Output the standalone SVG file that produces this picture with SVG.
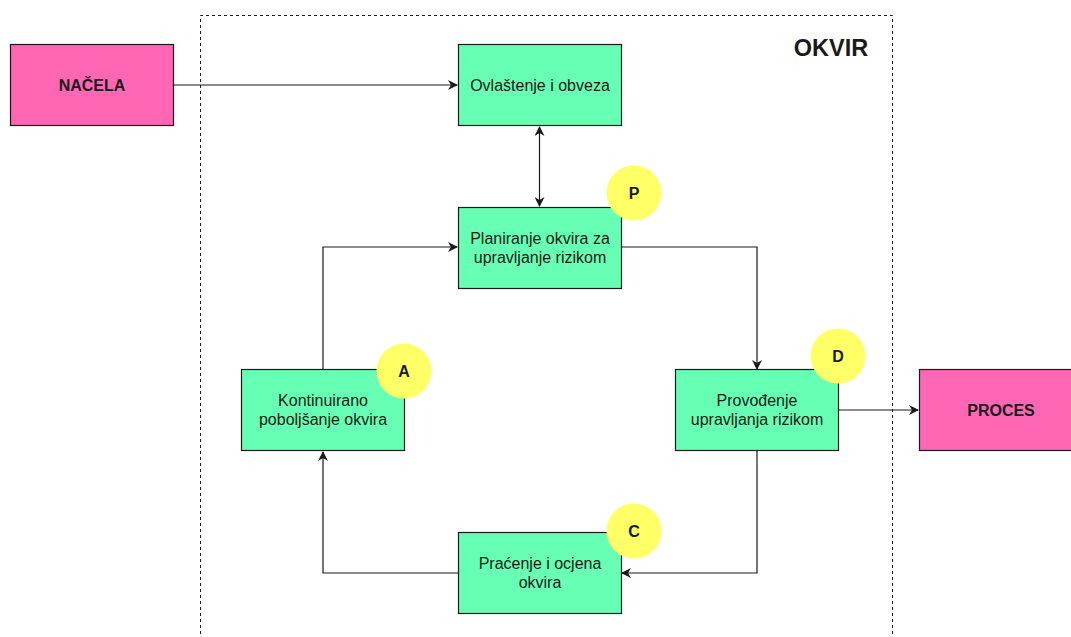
<svg xmlns="http://www.w3.org/2000/svg" width="1071" height="637" viewBox="0 0 1071 637">
<style>
.g{fill:#66FFB3;stroke:#1a1a1a;stroke-width:1.2}
.p{fill:#FF66B3;stroke:#1a1a1a;stroke-width:1.2}
.c{fill:#FFFF66;stroke:none}
.t{font-family:"Liberation Sans",Arial,sans-serif;font-size:16px;fill:#1a1a1a;text-anchor:middle}
.b{font-family:"Liberation Sans",Arial,sans-serif;font-size:16px;font-weight:bold;fill:#1a1a1a;text-anchor:middle}
.e{fill:none;stroke:#1a1a1a;stroke-width:1.2}
</style>
<defs>
<marker id="ar" viewBox="0 0 10 10" refX="9" refY="5" markerWidth="10" markerHeight="10" markerUnits="userSpaceOnUse" orient="auto-start-reverse">
<path d="M0,0 L10,5 L0,10 L3,5 Z" fill="#1a1a1a"/>
</marker>
</defs>
<rect width="1071" height="637" fill="#ffffff"/>
<g id="okvir">
<path d="M200.5,640 V15.5 H892.5 V640" fill="none" stroke="#1a1a1a" stroke-width="1" stroke-dasharray="3,3"/>
<text x="831" y="56" font-family="'Liberation Sans',Arial,sans-serif" font-size="23.5" font-weight="bold" fill="#1a1a1a" text-anchor="middle">OKVIR</text>
</g>
<g id="connectors">
<path class="e" d="M173,85 H457" marker-end="url(#ar)"/>
<path class="e" d="M539.5,127 V206" marker-start="url(#ar)" marker-end="url(#ar)"/>
<path class="e" d="M621,247 H757 V369" marker-end="url(#ar)"/>
<path class="e" d="M838,410 H918" marker-end="url(#ar)"/>
<path class="e" d="M757,451 V573 H622" marker-end="url(#ar)"/>
<path class="e" d="M458,573 H323 V452" marker-end="url(#ar)"/>
<path class="e" d="M323,369 V247 H457" marker-end="url(#ar)"/>
</g>
<g id="nacela">
<rect class="p" x="10.5" y="44.5" width="163" height="81"/>
<text class="b" x="92" y="91">NAČELA</text>
</g>
<g id="ovlastenje">
<rect class="g" x="458.5" y="44.5" width="163" height="81"/>
<text class="t" x="540" y="91">Ovlaštenje i obveza</text>
</g>
<g id="planiranje">
<rect class="g" x="458.5" y="207.5" width="163" height="81"/>
<text class="t" x="540" y="244">Planiranje okvira za</text>
<text class="t" x="540" y="263">upravljanje rizikom</text>
</g>
<g id="p-badge">
<circle class="c" cx="634" cy="193" r="27.5"/>
<text class="b" x="634" y="199">P</text>
</g>
<g id="kontinuirano">
<rect class="g" x="241.5" y="369.5" width="163" height="81"/>
<text class="t" x="323" y="406">Kontinuirano</text>
<text class="t" x="323" y="425">poboljšanje okvira</text>
</g>
<g id="a-badge">
<circle class="c" cx="404" cy="371" r="27.5"/>
<text class="b" x="404" y="377">A</text>
</g>
<g id="provodenje">
<rect class="g" x="675.5" y="369.5" width="163" height="81"/>
<text class="t" x="757" y="406">Provođenje</text>
<text class="t" x="757" y="425">upravljanja rizikom</text>
</g>
<g id="d-badge">
<circle class="c" cx="838" cy="356" r="27.5"/>
<text class="b" x="838" y="362">D</text>
</g>
<g id="proces">
<rect class="p" x="919.5" y="369.5" width="163" height="81"/>
<text class="b" x="1001" y="416">PROCES</text>
</g>
<g id="pracenje">
<rect class="g" x="458.5" y="532.5" width="163" height="81"/>
<text class="t" x="540" y="569">Praćenje i ocjena</text>
<text class="t" x="540" y="588">okvira</text>
</g>
<g id="c-badge">
<circle class="c" cx="634" cy="531" r="27.5"/>
<text class="b" x="634" y="537">C</text>
</g>
</svg>
